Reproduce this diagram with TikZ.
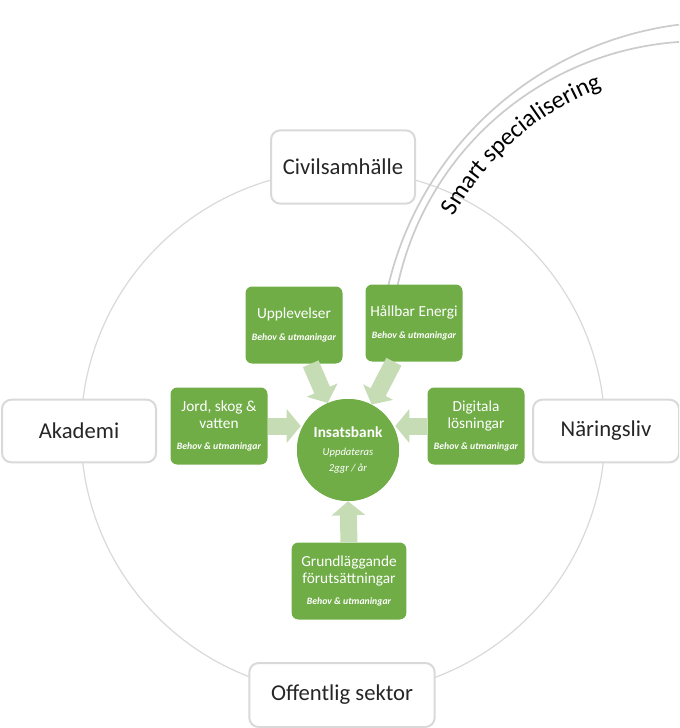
\documentclass[tikz,border=0pt]{standalone}
\usepackage{fontspec}
\setmainfont{Carlito}
\usetikzlibrary{arrows.meta,decorations.text}

\definecolor{boxgreen}{HTML}{70AD47}
\definecolor{arrowgreen}{HTML}{C5DCB5}
\definecolor{ringgray}{HTML}{D9D9D9}
\definecolor{labelgray}{HTML}{262626}

\tikzset{
  whitebox/.style={rectangle, rounded corners=7pt, draw=ringgray, line width=1.5pt,
    fill=white, text=labelgray, font=\fontsize{17}{19}\selectfont,
    minimum width=108pt, minimum height=47pt},
  greenbox/.style={rectangle, rounded corners=5pt, fill=boxgreen, text=white,
    align=center, inner sep=2pt, font=\fontsize{11.5}{13}\selectfont,
    minimum width=72.75pt, minimum height=57.75pt},
  bankcircle/.style={circle, fill=boxgreen, text=white, align=center,
    minimum size=76.5pt, inner sep=0pt},
  fatarrow/.style={draw=arrowgreen, line width=12.75pt,
    -{Triangle[length=10.5pt, width=24.75pt]}},
  arcline/.style={draw=ringgray!85!gray, line width=1.3pt}
}
\newcommand{\behov}{\\[3pt]{\fontsize{7.3}{9}\selectfont\bfseries\itshape Behov \& utmaningar}}

\begin{document}
\begin{tikzpicture}[x=0.75pt, y=-0.75pt]
  \clip (0,0) rectangle (679,728);

  % the big ring behind the four sectors
  \draw[ringgray, line width=0.9pt] (343,432) circle [radius=196.5pt];

  % the two arcs of smart specialisering
  \draw[arcline] ([shift={(168:257.25pt)}]722,365) arc[start angle=168, end angle=85, radius=257.25pt];
  \draw[arcline] ([shift={(168.5:232pt)}]700,350.6) arc[start angle=168.5, end angle=85, radius=232pt];
  % the label along the inner arc
  \path[decorate, decoration={text along path, text align=center,
      text={|\fontsize{18.5}{18.5}\selectfont|Smart specialisering}}]
    ([shift={(163:210pt)}]700,350.6) arc[start angle=163, end angle=99, radius=210pt];

  % the four sectors on the ring
  \node[whitebox, minimum height=55pt] (civil) at (343,167) {Civilsamhälle};
  \node[whitebox, minimum width=115.5pt] (akad) at (79,431) {Akademi};
  \node[whitebox, minimum width=109.5pt] (nar) at (606,431) {Näringsliv};
  \node[whitebox, minimum width=139pt, minimum height=48pt] (off) at (342,695) {Offentlig sektor};

  % the green areas
  \node[greenbox] (upp) at (294,325) {Upplevelser\behov};
  \node[greenbox] (hall) at (414,323) {Hållbar Energi\behov};
  \node[greenbox] (jord) at (219,426) {Jord, skog \&\\vatten\behov};
  \node[greenbox] (dig) at (476,426) {Digitala\\lösningar\behov};
  \node[greenbox, minimum width=86pt] (grund) at (349,581) {Grundläggande\\förutsättningar\behov};

  % the bank in the middle
  \node[bankcircle] (ins) at (348,450) {};

  % arrows into the bank
  \draw[fatarrow] (upp) -- (ins);
  \draw[fatarrow] (hall) -- (ins);
  \draw[fatarrow] (jord.east) -- ([xshift=3pt]jord.east -| ins.west);
  \draw[fatarrow] (dig.west) -- ([xshift=-3pt]dig.west -| ins.east);
  \draw[fatarrow] (grund.north) -- (ins.south);

  % the bank drawn again over the arrow tips
  \node[bankcircle] (bank) at (ins) {{\fontsize{11.5}{13}\selectfont\bfseries Insatsbank}\\[2pt]
    {\fontsize{8}{11}\selectfont\itshape Uppdateras}\\
    {\fontsize{8}{11}\selectfont\itshape 2ggr / år}};
\end{tikzpicture}
\end{document}
